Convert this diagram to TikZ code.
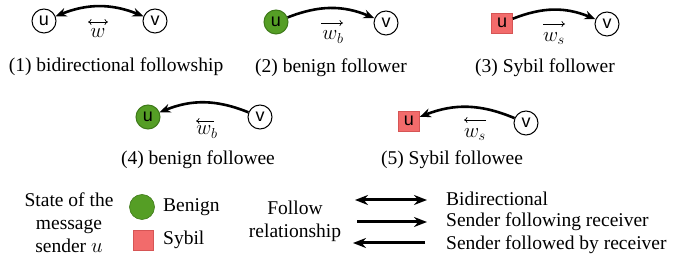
\documentclass[tikz,border=0pt]{standalone}
\usepackage{amsmath}
\usepackage{fontspec}
\setmainfont{Liberation Serif}
\newfontfamily\nodefont{Liberation Sans}
\usetikzlibrary{arrows.meta}
\definecolor{benign}{HTML}{559E25}
\definecolor{benignborder}{HTML}{3F7A1A}
\definecolor{sybil}{HTML}{F26B6B}
\definecolor{sybilborder}{HTML}{D65555}
\begin{document}
\begin{tikzpicture}[x=1pt,y=1pt,
  txt/.style={font=\fontsize{19.5}{23}\selectfont, inner sep=0pt},
  lbl/.style={font=\fontsize{20}{20}\selectfont, inner sep=0pt, anchor=base},
  acc/.style={line width=0.7pt, -{Computer Modern Rightarrow[length=3.5pt,width=6pt]}},
  dacc/.style={line width=0.7pt, {Computer Modern Rightarrow[length=3.5pt,width=6pt]}-{Computer Modern Rightarrow[length=3.5pt,width=6pt]}},
  vnode/.style={circle, draw=black, line width=1pt, minimum size=24pt, inner sep=0pt,
    font=\nodefont\fontsize{18}{18}\selectfont},
  bnode/.style={vnode, fill=benign, draw=benignborder},
  snode/.style={rectangle, fill=sybil, draw=sybilborder, line width=0.6pt,
    minimum width=21pt, minimum height=20pt, inner sep=0pt,
    font=\nodefont\fontsize{18}{18}\selectfont},
  link/.style={line width=2.6pt, -{Stealth[length=11pt,width=9pt]}},
  dlink/.style={line width=2.6pt, {Stealth[length=11pt,width=9pt]}-{Stealth[length=11pt,width=9pt]}},
  leg/.style={line width=3pt, -{Stealth[length=13pt,width=10pt]}},
  dleg/.style={line width=3pt, {Stealth[length=13pt,width=10pt]}-{Stealth[length=13pt,width=10pt]}}
]
\useasboundingbox (0,0) rectangle (680,262);

% Panel 1
\node[vnode] (u1) at (44,241) {u};
\node[vnode] (v1) at (155,241) {v};
\draw[dlink] (u1) to[bend left=22] (v1);
\node[lbl] (l1) at (98,224.5) {$w$};
\coordinate (a1l) at (88,240);
\coordinate (a1r) at (108,240);
\draw[dacc] (a1l) -- (a1r);
\node[txt] (c1) at (116,195) {(1) bidirectional followship};

% Panel 2
\node[bnode] (u2) at (276,240) {u};
\node[vnode] (v2) at (386,239) {v};
\draw[link] (u2) to[bend left=22] (v2);
\node[lbl] (l2) at (333,222) {$w_b$};
\coordinate (a2l) at (321,239);
\coordinate (a2r) at (343,239);
\draw[acc] (a2l) -- (a2r);
\node[txt] (c2) at (331,194) {(2) benign follower};

% Panel 3
\node[snode] (u3) at (502,239) {u};
\node[vnode] (v3) at (607,238) {v};
\draw[link] (u3) to[bend left=22] (v3);
\node[lbl] (l3) at (554,220.5) {$w_s$};
\coordinate (a3l) at (543,238);
\coordinate (a3r) at (565,238);
\draw[acc] (a3l) -- (a3r);
\node[txt] (c3) at (545,194) {(3) Sybil follower};

% Panel 4
\node[bnode] (u4) at (148,145) {u};
\node[vnode] (v4) at (260,145) {v};
\draw[link] (v4) to[bend right=22] (u4);
\node[lbl] (l4) at (207,127) {$w_b$};
\coordinate (a4r) at (214,141);
\coordinate (a4l) at (196,141);
\draw[acc] (a4r) -- (a4l);
\node[txt] (c4) at (198,102) {(4) benign followee};

% Panel 5
\node[snode] (u5) at (409,141) {u};
\node[vnode] (v5) at (526,139) {v};
\draw[link] (v5) to[bend right=22] (u5);
\node[lbl] (l5) at (475,124.5) {$w_s$};
\coordinate (a5r) at (486,142);
\coordinate (a5l) at (464,142);
\draw[acc] (a5r) -- (a5l);
\node[txt] (c5) at (452,102) {(5) Sybil followee};

% Legend: sender state
\node[txt, align=center] (state) at (69,39) {State of the\\message\\sender $u$};
\node[circle, fill=benign, draw=benignborder, line width=0.6pt, minimum size=25pt, inner sep=0pt] (lb) at (142,55) {};
\node[txt, anchor=west] (tb) at (163,55) {Benign};
\node[rectangle, fill=sybil, draw=sybilborder, line width=0.6pt, minimum size=20pt, inner sep=0pt] (ls) at (143,22) {};
\node[txt, anchor=west] (ts) at (163,22) {Sybil};

% Legend: follow relationship
\node[txt, align=center] (follow) at (295,41) {Follow\\relationship};
\coordinate (b1s) at (355,62);
\coordinate (b1e) at (427,62);
\coordinate (b2s) at (357,40);
\coordinate (b2e) at (427,40);
\coordinate (b3s) at (425,19);
\coordinate (b3e) at (353,19);
\draw[dleg] (b1s) -- (b1e);
\draw[leg] (b2s) -- (b2e);
\draw[leg] (b3s) -- (b3e);
\node[txt, anchor=west] (t1) at (446,63) {Bidirectional};
\node[txt, anchor=west] (t2) at (446,40) {Sender following receiver};
\node[txt, anchor=west] (t3) at (446,17) {Sender followed by receiver};
\end{tikzpicture}
\end{document}
